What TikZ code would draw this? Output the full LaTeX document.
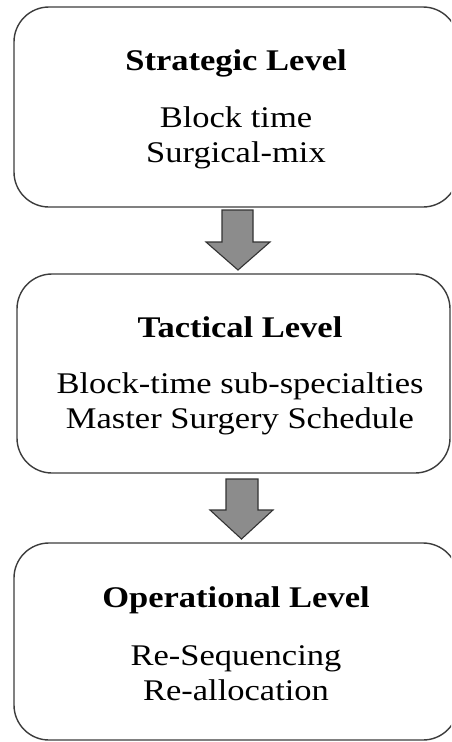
\documentclass[tikz,border=0pt]{standalone}
\usepackage{fontspec}
\setmainfont{Liberation Serif}[FakeStretch=1.15]
\definecolor{boxline}{HTML}{3C3C3C}
\definecolor{arrowfill}{HTML}{8C8C8C}
\definecolor{arrowline}{HTML}{333333}
\begin{document}
\begin{tikzpicture}[x=1pt,y=-1pt,
  levelbox/.style={draw=boxline,line width=1.4pt,rounded corners=35pt,inner sep=0pt,fill=white},
  headtext/.style={anchor=base,inner sep=0pt,font=\bfseries\fontsize{30}{35}\selectfont},
  bodytext/.style={anchor=base,inner sep=0pt,font=\fontsize{30}{35}\selectfont},
  blockarrow/.style={draw=arrowline,line width=1.1pt,fill=arrowfill,line join=miter}]
\clip (0,0) rectangle (451,742);
\fill[white] (0,0) rectangle (451,742);
% boxes
\node[levelbox,minimum width=444pt,minimum height=200pt] (strat) at (236,107) {};
\node[levelbox,minimum width=433pt,minimum height=199pt] (tact) at (233.5,373.5) {};
\node[levelbox,minimum width=444pt,minimum height=197pt] (oper) at (236,641.5) {};
% texts
\node[headtext] (strath) at (236,70) {Strategic Level};
\node[bodytext] (strat1) at (236,127) {Block time};
\node[bodytext] (strat2) at (236,162) {Surgical-mix};
\node[headtext] (tacth) at (240,337) {Tactical Level};
\node[bodytext] (tact1) at (240,393) {Block-time sub-specialties};
\node[bodytext] (tact2) at (240,428) {Master Surgery Schedule};
\node[headtext] (operh) at (236,607) {Operational Level};
\node[bodytext] (oper1) at (236,665) {Re-Sequencing};
\node[bodytext] (oper2) at (236,700) {Re-allocation};
% block arrows
\draw[blockarrow] (222,210) -- (253,210) -- (253,242) -- (270,242) -- (238,270) -- (206,242) -- (222,242) -- cycle;
\draw[blockarrow] (226,479) -- (258,479) -- (258,510) -- (273,510) -- (241.5,539) -- (210,510) -- (226,510) -- cycle;
\end{tikzpicture}
\end{document}
